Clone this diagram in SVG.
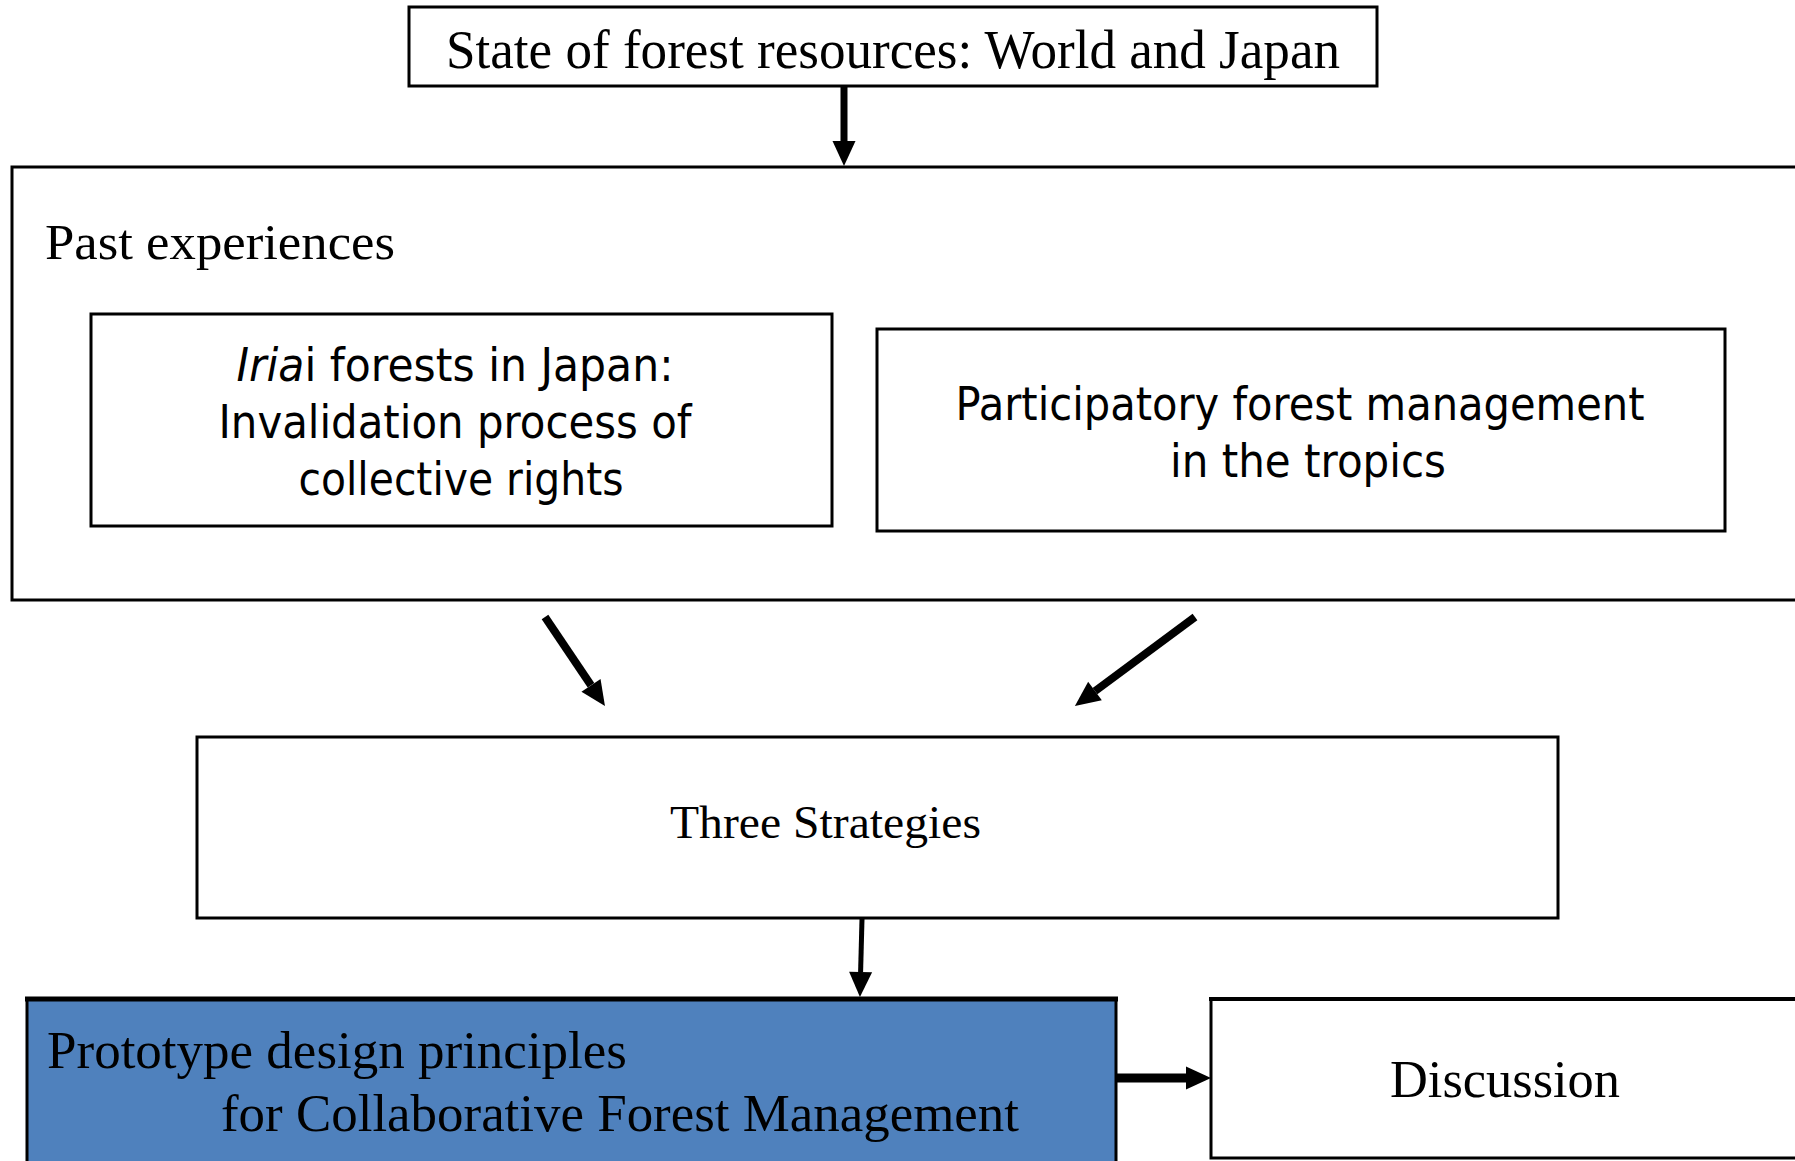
<svg xmlns="http://www.w3.org/2000/svg" width="1795" height="1161" viewBox="0 0 1795 1161">
  <style>
    .box { fill: #ffffff; stroke: #000000; stroke-width: 3; }
    .blue { fill: #4f81bd; stroke: #000000; stroke-width: 3; }
    .serif { font-family: "Liberation Serif", "Times New Roman", serif; fill: #000000; }
    .sans { font-family: "DejaVu Sans", "Liberation Sans", sans-serif; font-size: 46px; fill: #000000; text-anchor: middle; }
    .link { stroke: #000000; fill: none; marker-end: url(#head); }
  </style>
  <defs>
    <marker id="head" markerUnits="userSpaceOnUse" markerWidth="25" markerHeight="23" refX="0" refY="11.5" orient="auto" overflow="visible">
      <path d="M0,0 L25,11.5 L0,23 z" fill="#000000"/>
    </marker>
  </defs>

  <rect width="1795" height="1161" fill="#ffffff"/>

  <!-- top: state of resources -->
  <g id="node-state">
    <rect class="box" x="409" y="7" width="968" height="79"/>
    <text class="serif" x="446" y="68" font-size="54" textLength="894" lengthAdjust="spacingAndGlyphs">State of forest resources: World and Japan</text>
  </g>

  <!-- container: past experiences -->
  <g id="node-past">
    <rect class="box" x="12" y="167" width="1800" height="433"/>
    <text class="serif" x="45" y="259" font-size="51" textLength="350" lengthAdjust="spacingAndGlyphs">Past experiences</text>
  </g>

  <g id="node-iriai">
    <rect class="box" x="91" y="314" width="741" height="212" stroke-width="2.5"/>
    <text class="sans" y="381">
      <tspan x="455" textLength="437" lengthAdjust="spacingAndGlyphs"><tspan font-style="italic">Iria</tspan>i forests in Japan:</tspan>
    </text>
    <text class="sans" x="455" y="438" textLength="473" lengthAdjust="spacingAndGlyphs">Invalidation process of</text>
    <text class="sans" x="461" y="495" textLength="325" lengthAdjust="spacingAndGlyphs">collective rights</text>
  </g>

  <g id="node-participatory">
    <rect class="box" x="877" y="329" width="848" height="202" stroke-width="2.5"/>
    <text class="sans" x="1300" y="420" textLength="689" lengthAdjust="spacingAndGlyphs">Participatory forest management</text>
    <text class="sans" x="1308" y="477" textLength="276" lengthAdjust="spacingAndGlyphs">in the tropics</text>
  </g>

  <g id="node-strategies">
    <rect class="box" x="197" y="737" width="1361" height="181"/>
    <text class="serif" x="670" y="838" font-size="47" textLength="311" lengthAdjust="spacingAndGlyphs">Three Strategies</text>
  </g>

  <g id="node-prototype">
    <rect class="blue" x="27" y="999" width="1089" height="180"/>
    <line x1="25" y1="999" x2="1118" y2="999" stroke="#000000" stroke-width="5"/>
    <text class="serif" x="47" y="1068" font-size="53" textLength="580" lengthAdjust="spacingAndGlyphs">Prototype design principles</text>
    <text class="serif" x="221" y="1131" font-size="53" textLength="798" lengthAdjust="spacingAndGlyphs">for Collaborative Forest Management</text>
  </g>

  <g id="node-discussion">
    <rect class="box" x="1211" y="999" width="600" height="159"/>
    <line x1="1209" y1="999" x2="1795" y2="999" stroke="#000000" stroke-width="4"/>
    <text class="serif" x="1390" y="1097" font-size="52" textLength="230" lengthAdjust="spacingAndGlyphs">Discussion</text>
  </g>

  <!-- connectors -->
  <g id="connectors">
    <line class="link" x1="844" y1="86" x2="844" y2="141" stroke-width="7"/>
    <line class="link" x1="545" y1="617" x2="591" y2="685.3" stroke-width="8"/>
    <line class="link" x1="1195" y1="617" x2="1095" y2="691.1" stroke-width="8"/>
    <line class="link" x1="862" y1="919" x2="860.6" y2="972" stroke-width="5"/>
    <line class="link" x1="1116" y1="1078" x2="1186" y2="1078" stroke-width="9"/>
  </g>
</svg>
